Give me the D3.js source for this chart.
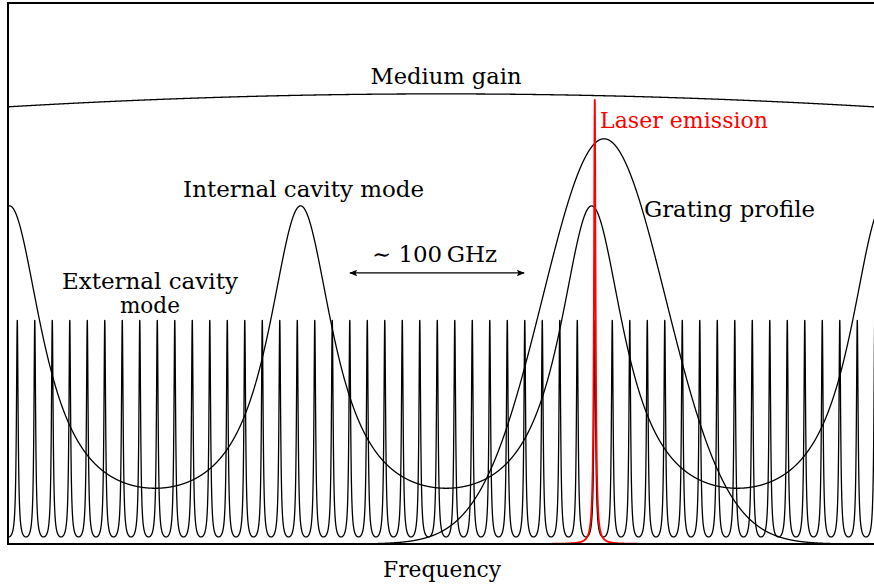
<!DOCTYPE html>
<html>
<head>
<meta charset="utf-8">
<script src="https://cdn.jsdelivr.net/npm/d3@7"></script>
<style>
  body { margin: 0; background: #fff; }
  text { font-family: "DejaVu Serif", "Liberation Serif", serif; font-size: 23px; }
</style>
</head>
<body>
<div id="app"></div>
<script>
// frequency in GHz, amplitude in arbitrary units (0-100)
const externalModes = [5.3, 15.3, 25.3, 35.3, 45.3, 55.3, 65.3, 75.3, 85.3, 95.3,
  105.3, 115.3, 125.3, 135.3, 145.3, 155.3, 165.3, 175.3, 185.3, 195.3,
  205.3, 215.3, 225.3, 235.3, 245.3, 255.3, 265.3, 275.3, 285.3, 295.3,
  305.3, 315.3, 325.3, 335.3, 345.3, 355.3, 365.3, 375.3, 385.3, 395.3,
  405.3, 415.3, 425.3, 435.3, 445.3, 455.3, 465.3, 475.3, 485.3, 495.3];
const externalLevels = [41.4, 1.3];       // peak, floor
const internalModes = [0.9, 167.2, 333.5, 499.8];
const internalLevels = [62.5, 10.3];      // peak, floor
const laserLine = [335.3];
const laserLevel = [82.1, 0.55];          // peak, half width
const gratingProfile = [340.6, 35.2, 74.9]; // centre, sigma, peak
const mediumGain = [247.4, 1024, 83.2];     // centre, sigma, peak
const spacingArrow = [195.4, 294.9];
const labels = ["Medium gain", "Laser emission", "Grating profile", "Internal cavity mode",
  "External cavity", "mode", "\u223C 100\u2009GHz", "Frequency"];

const W = 874, H = 587;
const x = d3.scaleLinear().domain([0, 500]).range([8, 883]);
const y = d3.scaleLinear().domain([0, 100]).range([544, 3]);

const svg = d3.select("#app").append("svg")
  .attr("width", W).attr("height", H);

const defs = svg.append("defs");
defs.append("clipPath").attr("id", "frame")
  .append("rect")
  .attr("x", x(0)).attr("y", y(100))
  .attr("width", x(500) - x(0)).attr("height", y(0) - y(100));
defs.append("marker")
  .attr("id", "head").attr("viewBox", "0 -5 10 10")
  .attr("refX", 9).attr("refY", 0)
  .attr("markerWidth", 10).attr("markerHeight", 8)
  .attr("markerUnits", "userSpaceOnUse")
  .attr("orient", "auto-start-reverse")
  .append("path").attr("d", "M0,-4L10,0L0,4L2,0Z").attr("fill", "#000");

/* line shapes */
function airy(f, centres, levels) {
  const period = centres[1] - centres[0];
  const c = centres.reduce((a, b) => Math.abs(b - f) < Math.abs(a - f) ? b : a);
  const F = levels[0] / levels[1] - 1;
  const s = Math.sin(Math.PI * (f - c) / period);
  return levels[0] / (1 + F * s * s);
}
const gauss = (f, p) => p[2] * Math.exp(-((f - p[0]) ** 2) / (2 * p[1] * p[1]));
const lorentz = (f, c, p) => p[0] * p[1] * p[1] / ((f - c) ** 2 + p[1] * p[1]);

const grid = d3.range(0, 500.001, 0.04);
const line = d3.line().x(d => x(d[0])).y(d => y(d[1]));

const plot = svg.append("g").attr("clip-path", "url(#frame)")
  .attr("fill", "none").attr("stroke-linejoin", "round");

plot.append("path")
  .attr("d", line(grid.map(f => [f, airy(f, externalModes, externalLevels)])))
  .attr("stroke", "#000").attr("stroke-width", 1.3);

plot.append("path")
  .attr("d", line(grid.map(f => [f, airy(f, internalModes, internalLevels)])))
  .attr("stroke", "#000").attr("stroke-width", 1.3);

plot.append("path")
  .attr("d", line(grid.map(f => [f, gauss(f, gratingProfile)])))
  .attr("stroke", "#000").attr("stroke-width", 1.3);

plot.append("path")
  .attr("d", line(grid.map(f => [f, gauss(f, mediumGain)])))
  .attr("stroke", "#000").attr("stroke-width", 1.3);

plot.append("path")
  .attr("d", line(d3.range(laserLine[0] - 30, laserLine[0] + 30, 0.01)
    .map(f => [f, lorentz(f, laserLine[0], laserLevel)])))
  .attr("stroke", "#f00").attr("stroke-width", 1.8);

/* frame */
svg.append("rect")
  .attr("x", x(0)).attr("y", y(100))
  .attr("width", x(500) - x(0)).attr("height", y(0) - y(100))
  .attr("fill", "none").attr("stroke", "#000").attr("stroke-width", 2);

/* spacing arrow */
svg.append("line")
  .attr("x1", x(spacingArrow[0])).attr("x2", x(spacingArrow[1]))
  .attr("y1", y(50.1)).attr("y2", y(50.1))
  .attr("stroke", "#000").attr("stroke-width", 1.2)
  .attr("marker-start", "url(#head)").attr("marker-end", "url(#head)");

/* labels, widths matched to the reference */
const put = (t, fx, fy, anchor, len, colour) => svg.append("text")
  .attr("x", x(fx)).attr("y", y(fy))
  .attr("text-anchor", anchor).attr("fill", colour || "#000")
  .attr("textLength", len).attr("lengthAdjust", "spacingAndGlyphs")
  .text(t);

put(labels[0], 250.3, 85.0, "middle", 151);
put(labels[1], 338.3, 76.9, "start", 168, "#f00");
put(labels[2], 363.4, 60.5, "start", 171);
put(labels[3], 168.9, 64.1, "middle", 241);
put(labels[4], 81.1, 47.1, "middle", 176);
put(labels[5], 81.1, 42.7, "middle", 60);
put(labels[6], 243.7, 52.1, "middle", 125);
put(labels[7], 248.0, -6.1, "middle", 118);
</script>
</body>
</html>
